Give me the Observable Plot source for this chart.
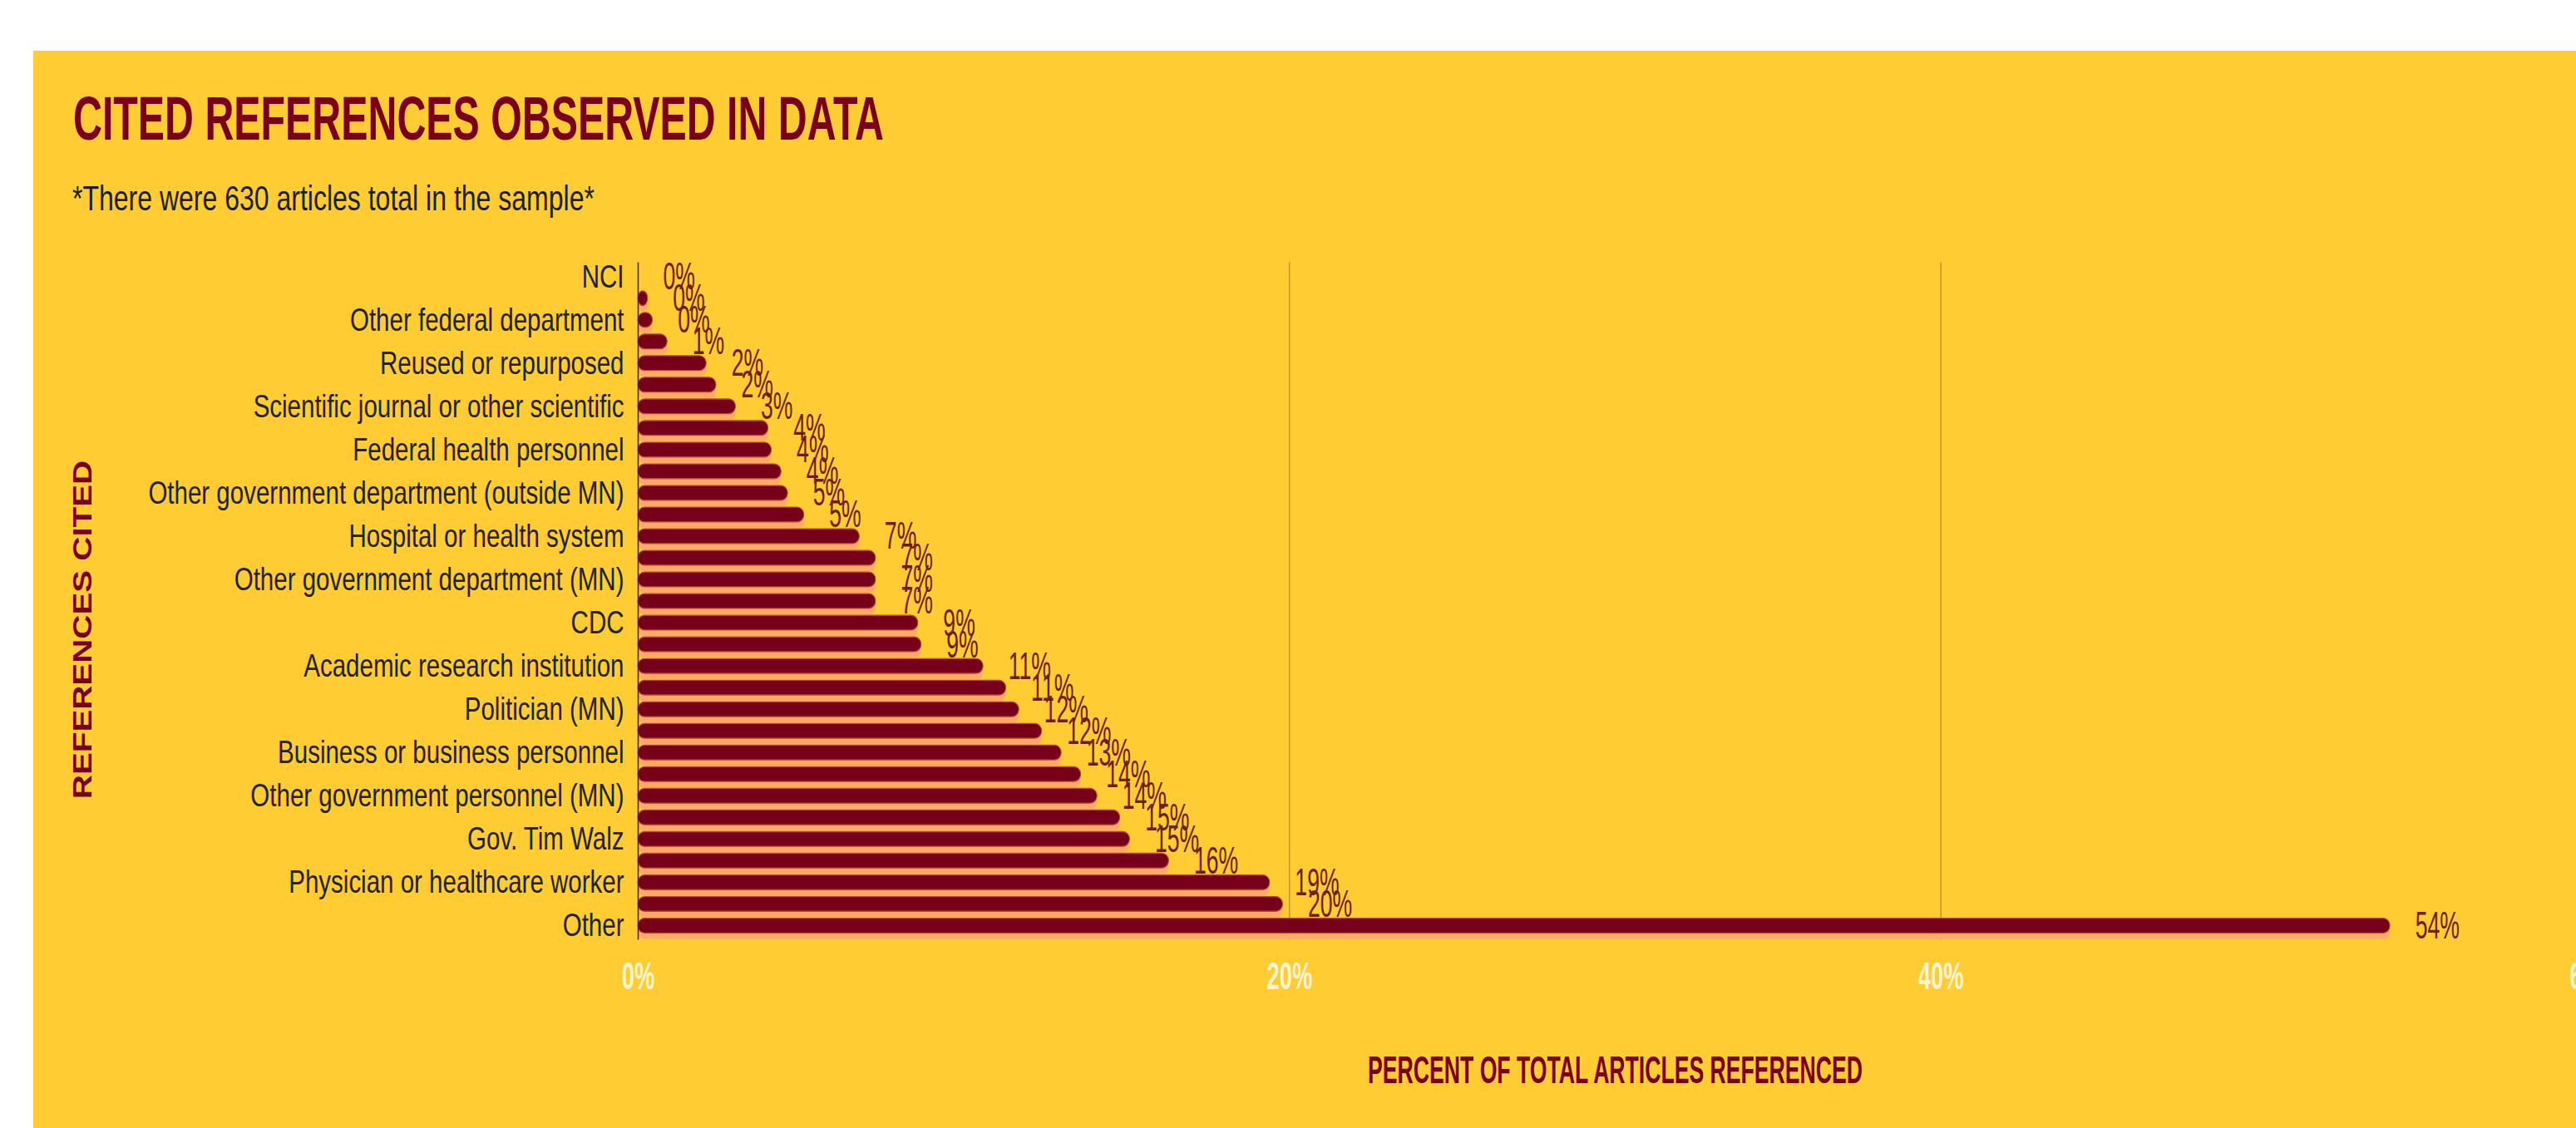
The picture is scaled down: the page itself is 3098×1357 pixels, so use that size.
<!DOCTYPE html>
<html>
<head>
<meta charset="utf-8">
<script src="https://cdn.jsdelivr.net/npm/d3@7"></script>
<script src="https://cdn.jsdelivr.net/npm/@observablehq/plot@0.6"></script>
<style>
  html, body { margin: 0; padding: 0; background: #ffffff; width: 3098px; height: 1357px; overflow: hidden; }
  #bg { position: absolute; left: 40px; top: 61px; width: 3058px; height: 1296px; background: #FFCC33; }
  #wrap { position: absolute; left: 0; top: 0; width: 3098px; height: 1044px; transform: scaleY(1.3); transform-origin: 0 0; }
  #title { position: absolute; left: 88px; top: 81px; font: bold 57px/1 "Liberation Sans", Arial, sans-serif; color: #7A0019; white-space: nowrap; transform: scaleX(0.848); transform-origin: 0 0; }
  #subtitle { position: absolute; left: 87px; top: 167.5px; font: 32px/1 "Liberation Sans", Arial, sans-serif; color: #1e1e1e; white-space: nowrap; }
  #chart { position: absolute; left: 0; top: 200px; }
</style>
</head>
<body>
<div id="bg"></div>
<div id="wrap">
  <div id="title">CITED REFERENCES OBSERVED IN DATA</div>
  <div id="subtitle">*There were 630 articles total in the sample*</div>
  <div id="chart"></div>
</div>
<script>
// Tick labels shown on the y axis (every other category is labelled in the source)
const tickLabels = [
  "NCI",
  "Other federal department",
  "Reused or repurposed",
  "Scientific journal or other scientific",
  "Federal health personnel",
  "Other government department (outside MN)",
  "Hospital or health system",
  "Other government department (MN)",
  "CDC",
  "Academic research institution",
  "Politician (MN)",
  "Business or business personnel",
  "Other government personnel (MN)",
  "Gov. Tim Walz",
  "Physician or healthcare worker",
  "Other"
];

// Rows whose names are not printed in the source chart
const hiddenLabels = [
  "(unlabelled row 2)", "(unlabelled row 4)", "(unlabelled row 6)", "(unlabelled row 8)",
  "(unlabelled row 10)", "(unlabelled row 12)", "(unlabelled row 14)", "(unlabelled row 16)",
  "(unlabelled row 18)", "(unlabelled row 20)", "(unlabelled row 22)", "(unlabelled row 24)",
  "(unlabelled row 26)", "(unlabelled row 28)", "(unlabelled row 30)"
];

// All 31 categories, top to bottom
const categories = [];
tickLabels.forEach((t, i) => {
  categories.push(t);
  if (i < hiddenLabels.length) categories.push(hiddenLabels[i]);
});

// Percent of total articles referenced (top to bottom)
const values = [
  0, 0.3, 0.45, 0.9, 2.1, 2.4, 3.0, 4.0, 4.1, 4.4, 4.6,
  5.1, 6.8, 7.3, 7.3, 7.3, 8.6, 8.7, 10.6, 11.3, 11.7,
  12.4, 13.0, 13.6, 14.1, 14.8, 15.1, 16.3, 19.4, 19.8, 53.8
];

const xTicks = [0, 20, 40, 60];

const data = categories.map((c, i) => ({category: c, value: values[i]}));

const font = '"Liberation Sans", Arial, sans-serif';

const chart = Plot.plot({
  width: 3098,
  height: 840,
  marginLeft: 767,
  marginRight: -19,
  marginTop: 42.7,
  marginBottom: 170.3,
  style: {background: "transparent", maxWidth: "none"},
  x: {domain: [0, 60]},
  y: {domain: categories, padding: 0.32, round: false},
  marks: [
    Plot.gridX(xTicks.filter(d => d > 0), {stroke: "#b38c22", strokeOpacity: 1, strokeWidth: 1.2}),
    // soft peach shadow under each bar
    Plot.barX(data, {x: "value", y: "category", fill: "#FFAA66", insetTop: 6, insetBottom: -5.5, rx: 6}),
    Plot.barX(data, {x: "value", y: "category", fill: "#76001A", stroke: "#b84a1c", strokeWidth: 1, rx: 8}),
    Plot.ruleX([0], {stroke: "#2b2b2b", strokeWidth: 1.5}),
    Plot.axisX({
      ticks: xTicks, tickFormat: d => d + "%", tickSize: 0, tickPadding: 20,
      fontSize: 35.5, fontWeight: "bold", fontFamily: font, fill: "#FFF5D0", label: null
    }),
    Plot.axisY({
      ticks: tickLabels, tickSize: 0, tickPadding: 17,
      fontSize: 29.5, fontFamily: font, fill: "#222222", label: null
    }),
    Plot.text(data, {
      x: "value", y: "category", text: d => Math.round(d.value) + "%",
      textAnchor: "start", dx: 30, fontSize: 35.5, fontFamily: font, fill: "#6E1E0C"
    }),
    Plot.text(["PERCENT OF TOTAL ARTICLES REFERENCED"], {
      frameAnchor: "bottom", dy: 121, lineAnchor: "middle", textAnchor: "middle",
      fontSize: 35.5, fontWeight: "bold", fontFamily: font, fill: "#7A0019"
    }),
    Plot.text(["REFERENCES CITED"], {
      frameAnchor: "left", rotate: -90, dx: -667, dy: 26, textAnchor: "middle", lineAnchor: "middle",
      fontSize: 31, fontWeight: "bold", fontFamily: font, fill: "#7A0019"
    })
  ]
});

// Condense the narrow-looking texts horizontally (the source uses a condensed face)
function condense(group, sx) {
  if (!group) return;
  group.querySelectorAll("text").forEach(t => {
    const tr = t.getAttribute("transform") || "";
    t.setAttribute("transform", (tr + ` scale(${sx},1)`).trim());
  });
}
const textGroups = chart.querySelectorAll('g[aria-label="text"]');
condense(textGroups[0], 0.75);
condense(textGroups[1], 0.75);
condense(chart.querySelector('g[aria-label="x-axis tick label"]'), 0.77);

document.getElementById("chart").appendChild(chart);
</script>
</body>
</html>
